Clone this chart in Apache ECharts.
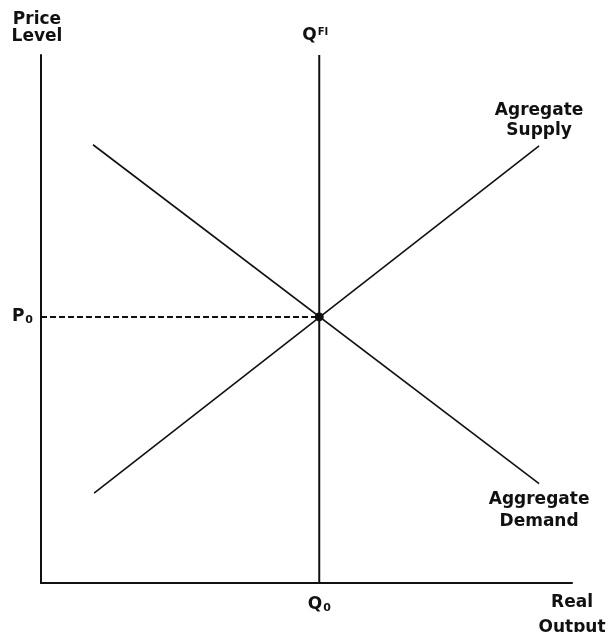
<!DOCTYPE html>
<html>
<head>
<meta charset="utf-8">
<script src="https://cdn.jsdelivr.net/npm/echarts@6/dist/echarts.min.js"></script>
<style>
  html, body { margin: 0; padding: 0; background: #fff; }
  #ASADChart { width: 609px; height: 632px; }
</style>
</head>
<body>
<div id="ASADChart"></div>
<script>
// curve end points (0..100 on both axes)
const demandPts = [[9.8, 83.0], [93.8, 18.8]];
const supplyPts = [[10.0, 17.0], [93.8, 82.8]];
const qFull = 52.4;
const pLevel = 50.4;
const axisMax = 100;

const font = '"DejaVu Sans", "Liberation Sans", sans-serif';
const ink = '#111';

const baseText = {
  fontFamily: font,
  fontWeight: 'bold',
  fontSize: 17,
  color: ink
};

const option = {
  animation: false,
  backgroundColor: '#fff',
  grid: {
    left: 41,
    right: 37,
    top: 55,
    bottom: 49,
    outerBoundsMode: 'none',
    containLabel: false
  },
  xAxis: {
    type: 'value',
    min: 0,
    max: axisMax,
    name: 'Real\nOutput',
    nameLocation: 'end',
    nameGap: 0,
    nameMoveOverlap: false,
    nameTextStyle: {
      ...baseText,
      align: 'center',
      verticalAlign: 'top',
      lineHeight: 25,
      padding: [7, 0, 0, 0]
    },
    axisLine: { lineStyle: { color: ink, width: 2 } },
    axisTick: { show: false },
    axisLabel: { show: false },
    splitLine: { show: false }
  },
  yAxis: {
    type: 'value',
    min: 0,
    max: axisMax,
    name: 'Price\nLevel',
    nameLocation: 'end',
    nameGap: 10,
    nameMoveOverlap: false,
    nameTextStyle: {
      ...baseText,
      align: 'center',
      verticalAlign: 'bottom',
      lineHeight: 17,
      padding: [0, 8, 0, 0]
    },
    axisLine: { lineStyle: { color: ink, width: 2 } },
    axisTick: { show: false },
    axisLabel: { show: false },
    splitLine: { show: false }
  },
  series: [
    {
      name: 'Aggregate Demand',
      type: 'line',
      data: demandPts,
      symbol: 'none',
      lineStyle: { color: ink, width: 1.6 }
    },
    {
      name: 'Agregate Supply',
      type: 'line',
      data: supplyPts,
      symbol: 'none',
      lineStyle: { color: ink, width: 1.6 }
    },
    {
      name: 'QFI',
      type: 'line',
      data: [[qFull, 0], [qFull, axisMax]],
      symbol: 'none',
      lineStyle: { color: ink, width: 2 }
    },
    {
      name: 'P0',
      type: 'line',
      data: [[0, pLevel], [qFull, pLevel]],
      symbol: 'none',
      lineStyle: { color: ink, width: 2, type: [6, 3] }
    },
    {
      name: 'equilibrium',
      type: 'scatter',
      data: [[qFull, pLevel]],
      symbol: 'circle',
      symbolSize: 9,
      itemStyle: { color: ink, opacity: 1 }
    },
    {
      name: 'labels',
      type: 'scatter',
      symbolSize: 0,
      silent: true,
      itemStyle: { color: ink, opacity: 1 },
      label: {
        show: true,
        ...baseText,
        rich: {
          m: { ...baseText },
          sup: { ...baseText, fontSize: 10, verticalAlign: 'top', padding: [0, 0, 0, 1] },
          sub: { ...baseText, fontSize: 11, verticalAlign: 'bottom', padding: [0, 0, 0, 1] }
        }
      },
      data: [
        {
          value: supplyPts[1],
          label: { position: 'top', distance: 5, lineHeight: 20, align: 'center', formatter: 'Agregate\nSupply' }
        },
        {
          value: demandPts[1],
          label: { position: 'bottom', distance: 5, lineHeight: 22, align: 'center', formatter: 'Aggregate\nDemand' }
        },
        {
          value: [qFull, axisMax],
          label: { position: 'top', distance: 10, lineHeight: 18, padding: [0, 8, 0, 0], formatter: '{m|Q}{sup|FI}' }
        },
        {
          value: [qFull, 0],
          label: { position: 'bottom', distance: 13, lineHeight: 18, formatter: '{m|Q}{sub|0}' }
        },
        {
          value: [0, pLevel],
          label: { position: 'left', distance: 8, lineHeight: 18, formatter: '{m|P}{sub|0}' }
        }
      ]
    }
  ]
};

const chartDom = document.getElementById('ASADChart');
const myChart = echarts.init(chartDom);
myChart.setOption(option);
</script>
</body>
</html>
